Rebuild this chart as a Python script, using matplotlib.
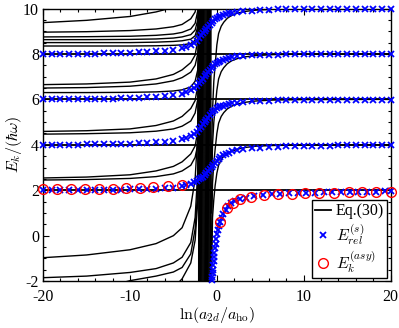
import numpy as np
import matplotlib
matplotlib.use('Agg')
import matplotlib.pyplot as plt
from matplotlib.lines import Line2D

plt.rcParams['font.family'] = ['Liberation Serif', 'DejaVu Serif']
plt.rcParams['mathtext.fontset'] = 'cm'
plt.rcParams['axes.unicode_minus'] = False

# ---- data ----
# horizontal levels of Eq.(30)
levels = [2, 4, 6, 8, 10]

# left branches of Eq.(30) (x grid shared, last point where the curve leaves the top)
left_x = [-20, -15, -10, -7, -5, -4, -3, -2.5, -2.2]
left_curves = {
    'B4': [-5.0, -4.5, -3.6, -2.9, -2.3, -1.9, -1.2, -0.2, 1.5],
    'B3': [-3.0, -2.5, -1.98, -1.78, -1.6, -1.4, -0.8, 0.3, 2.0],
    'B2': [-1.85, -1.78, -1.62, -1.45, -1.2, -0.95, -0.3, 0.8, 2.8],
    'B1': [-0.97, -0.85, -0.62, -0.35, 0.0, 0.35, 1.3, 2.5, 4.5],
    'C2': [2.45, 2.47, 2.52, 2.6, 2.72, 2.85, 3.1, 3.45, 4.0],
    'C1': [2.54, 2.58, 2.68, 2.85, 3.05, 3.25, 3.6, 3.95, 4.6],
    'D2': [4.47, 4.49, 4.53, 4.6, 4.7, 4.82, 5.05, 5.4, 6.0],
    'D1': [4.59, 4.62, 4.7, 4.85, 5.05, 5.25, 5.6, 5.95, 6.6],
    'E3': [6.3, 6.3, 6.31, 6.33, 6.37, 6.42, 6.55, 6.8, 7.3],
    'E2': [6.5, 6.52, 6.58, 6.68, 6.82, 6.96, 7.2, 7.5, 8.0],
    'E1': [6.65, 6.68, 6.76, 6.9, 7.1, 7.3, 7.62, 7.95, 8.6],
    'F5': [8.35, 8.35, 8.35, 8.36, 8.38, 8.4, 8.46, 8.6, 9.0],
    'F4': [8.5, 8.5, 8.5, 8.52, 8.55, 8.58, 8.65, 8.8, 9.2],
    'F3': [8.63, 8.63, 8.64, 8.66, 8.7, 8.75, 8.85, 9.05, 9.5],
    'F2': [8.75, 8.76, 8.78, 8.82, 8.88, 8.95, 9.1, 9.35, 9.9],
    'F1': [8.96, 8.98, 9.03, 9.1, 9.2, 9.3, 9.55, 9.85, 10.5],
    'A1': [9.38, 9.48, 9.65, 9.85, 10.05, 10.2, 10.5, 10.9, 11.5],
}
left_end_x = {'B4': -1.8, 'B3': -1.85, 'B2': -1.9, 'B1': -1.95, 'C2': -1.85, 'C1': -1.9,
              'D2': -1.85, 'D1': -1.9, 'E3': -1.8, 'E2': -1.85, 'E1': -1.9,
              'F5': -1.8, 'F4': -1.85, 'F3': -1.9, 'F2': -1.95, 'F1': -2.0, 'A1': -2.05}

# dense vertical band
band_x = [-2.1, -2.0, -1.9, -1.8, -1.7, -1.6, -1.5, -1.4, -1.3, -1.2, -1.1, -1.0, -0.9, -0.8, -0.72]

# right branches of Eq.(30)
right_x = [-0.65, -0.5, -0.35, -0.2, 0, 0.2, 0.5, 0.8, 1.2, 1.7, 2.4, 3.2, 4.5, 6.5, 10, 20]
right_E4 = [-3, 0.8, 1.6, 2.2, 2.75, 3.1, 3.35, 3.5, 3.62, 3.72, 3.81, 3.88, 3.94, 3.97, 3.99, 4.0]
right_E6 = [-1, 2.3, 3.2, 3.8, 4.5, 4.95, 5.25, 5.42, 5.58, 5.7, 5.8, 5.87, 5.93, 5.97, 5.99, 6.0]
right_E8 = [1, 4.0, 5.0, 5.6, 6.4, 6.9, 7.22, 7.4, 7.57, 7.7, 7.8, 7.87, 7.93, 7.97, 7.99, 8.0]
right_E10 = [3, 5.5, 6.8, 7.5, 8.4, 8.9, 9.22, 9.4, 9.57, 9.7, 9.8, 9.87, 9.93, 9.97, 9.99, 10.0]

# E_rel^(s) branches (blue crosses)
bx = [-20, -19, -18, -17, -16, -15, -14, -13, -12, -11, -10, -9, -8, -7, -6, -5, -4,
      -3.5, -3, -2.6, -2.3,
      -2.0, -1.8, -1.6, -1.4, -1.2, -1.0, -0.8, -0.6, -0.4, -0.2, 0.0, 0.2, 0.4,
      0.7, 1.0, 1.4, 1.8, 2.3,
      3, 4, 5, 6, 7, 8, 9, 10, 11, 12, 13, 14, 15, 16, 17, 18, 19, 20]
blue_E2 = [2.00, 2.00, 2.01, 2.01, 2.01, 2.01, 2.02, 2.02, 2.03, 2.03, 2.04, 2.05, 2.06, 2.07, 2.09, 2.12, 2.17,
           2.21, 2.28, 2.35, 2.42,
           2.48, 2.54, 2.60, 2.67, 2.75, 2.84, 2.93, 3.03, 3.13, 3.22, 3.30, 3.38, 3.45,
           3.53, 3.60, 3.66, 3.71, 3.75,
           3.80, 3.85, 3.88, 3.90, 3.92, 3.93, 3.94, 3.95, 3.95, 3.96, 3.96, 3.97, 3.97, 3.97, 3.97, 3.98, 3.98, 3.98]
blue_E4 = [4.00, 4.00, 4.01, 4.01, 4.01, 4.02, 4.02, 4.03, 4.03, 4.04, 4.05, 4.07, 4.09, 4.11, 4.14, 4.18, 4.25,
           4.31, 4.40, 4.49, 4.58,
           4.70, 4.80, 4.90, 5.00, 5.10, 5.20, 5.30, 5.39, 5.47, 5.54, 5.60, 5.65, 5.69,
           5.73, 5.77, 5.80, 5.83, 5.86,
           5.89, 5.92, 5.94, 5.95, 5.96, 5.97, 5.97, 5.98, 5.98, 5.98, 5.98, 5.99, 5.99, 5.99, 5.99, 5.99, 5.99, 5.99]
blue_E6 = [6.00, 6.00, 6.01, 6.01, 6.01, 6.02, 6.02, 6.03, 6.03, 6.04, 6.05, 6.07, 6.09, 6.11, 6.14, 6.18, 6.25,
           6.31, 6.40, 6.49, 6.58,
           6.71, 6.81, 6.91, 7.01, 7.11, 7.21, 7.31, 7.40, 7.48, 7.55, 7.61, 7.66, 7.70,
           7.75, 7.79, 7.83, 7.86, 7.89,
           7.92, 7.95, 7.96, 7.97, 7.97, 7.98, 7.98, 7.98, 7.99, 7.99, 7.99, 7.99, 7.99, 7.99, 7.99, 7.99, 7.99, 7.99]
blue_E8 = [8.00, 8.00, 8.01, 8.01, 8.01, 8.02, 8.02, 8.03, 8.03, 8.04, 8.05, 8.07, 8.09, 8.11, 8.14, 8.18, 8.25,
           8.31, 8.39, 8.48, 8.58,
           8.72, 8.82, 8.92, 9.01, 9.10, 9.20, 9.29, 9.38, 9.46, 9.53, 9.59, 9.64, 9.68,
           9.72, 9.76, 9.79, 9.82, 9.85,
           9.88, 9.91, 9.93, 9.95, 9.96, 9.97, 9.97, 9.98, 9.98, 9.98, 9.99, 9.99, 9.99, 9.99, 9.99, 9.99, 9.99, 9.99]

# lowest branch (bound state), blue crosses
low_x = [-0.55, -0.52, -0.49, -0.46, -0.42, -0.38, -0.33, -0.28, -0.22, -0.15, -0.07, 0.02, 0.12, 0.24,
         0.38, 0.55, 0.75, 1.0, 1.3, 1.65, 2.1, 2.7, 3.4, 4.3, 5.3, 6.3, 7.3, 8.3, 9.3, 10.3, 11.3,
         12.3, 13.3, 14.3, 15.3, 16.3, 17.3, 18.3, 19.3, 20]
low_E = [-1.95, -1.82, -1.66, -1.5, -1.3, -1.12, -0.95, -0.75, -0.55, -0.35, -0.15, 0.08, 0.25, 0.43,
         0.6, 0.78, 0.95, 1.15, 1.3, 1.43, 1.52, 1.62, 1.68, 1.74, 1.79, 1.82, 1.85, 1.87, 1.88, 1.89, 1.9,
         1.91, 1.92, 1.92, 1.93, 1.93, 1.94, 1.94, 1.95, 1.95]

# E_k^(asy) (red circles)
red_x_left = [-20, -18.4, -16.8, -15.2, -13.6, -12.0, -10.4, -8.8, -7.3, -5.6, -4.0]
red_E_left = [2.04, 2.04, 2.05, 2.05, 2.06, 2.07, 2.09, 2.11, 2.13, 2.17, 2.25]
red_x_right = [0.36, 1.12, 1.81, 2.66, 3.92, 5.44, 7.05, 8.7, 10.2, 11.8, 13.5, 15.2, 16.7, 18.3, 20]
red_E_right = [0.62, 1.24, 1.45, 1.62, 1.71, 1.78, 1.82, 1.85, 1.87, 1.89, 1.9, 1.91, 1.92, 1.92, 1.93]

# ---- plot ----
fig = plt.figure(figsize=(3.99, 3.28), dpi=100)
ax = fig.add_axes([0.108, 0.143, 0.871, 0.831])

lw = 1.0
for L in levels:
    ax.axhline(L, color='k', lw=1.3)

for name, E in left_curves.items():
    ax.plot(left_x + [left_end_x[name]], E + [12], color='k', lw=lw)

for xb in band_x:
    ax.plot([xb, xb + 0.05], [-3, 11], color='k', lw=lw)

for E in [right_E4, right_E6, right_E8, right_E10]:
    ax.plot(right_x, E, color='k', lw=lw)

blue_kw = dict(ls='none', marker='x', color='b', ms=4.5, mew=1.3, clip_on=False, zorder=5)
for E in [blue_E2, blue_E4, blue_E6, blue_E8]:
    ax.plot(bx, E, **blue_kw)
ax.plot(low_x, low_E, **blue_kw)

red_kw = dict(ls='none', marker='o', mfc='none', mec='r', ms=7, mew=1.0, clip_on=False, zorder=6)
ax.plot(red_x_left, red_E_left, **red_kw)
ax.plot(red_x_right, red_E_right, **red_kw)

ax.set_xlim(-20, 20)
ax.set_ylim(-2, 10)
ax.set_xticks([-20, -10, 0, 10, 20])
ax.set_yticks([-2, 0, 2, 4, 6, 8, 10])
ax.set_xticks(np.arange(-20, 21, 2), minor=True)
ax.set_yticks(np.arange(-2, 10.1, 0.5), minor=True)
ax.tick_params(which='both', direction='in', top=True, right=True, labelsize=11.5, width=0.8)
ax.tick_params(which='major', length=4)
ax.tick_params(which='minor', length=2)
ax.tick_params(axis='x', which='major', pad=6)
ax.tick_params(axis='y', which='major', pad=3)
for s in ax.spines.values():
    s.set_linewidth(1.0)

ax.set_xlabel(r'$\ln(a_{2d}/a_{\rm ho})$', fontsize=11.5, labelpad=0)
ax.set_ylabel(r'$E_k/(\hbar\omega)$', fontsize=11.5, labelpad=-1)

handles = [Line2D([], [], color='k', lw=1.3),
           Line2D([], [], ls='none', marker='x', color='b', ms=4.5, mew=1.3),
           Line2D([], [], ls='none', marker='o', mfc='none', mec='r', ms=7, mew=1.0)]
labels = ['Eq.(30)', r'$E_{rel}^{(s)}$', r'$E_k^{(asy)}$']
leg = ax.legend(handles, labels, loc='lower right', fontsize=11.5, frameon=True, fancybox=False,
                framealpha=1, edgecolor='k', borderaxespad=0.2, handlelength=1.0,
                handletextpad=0.3, labelspacing=0.15, borderpad=0.2)
leg.get_frame().set_linewidth(1.0)

fig.savefig('out.png', dpi=100)
